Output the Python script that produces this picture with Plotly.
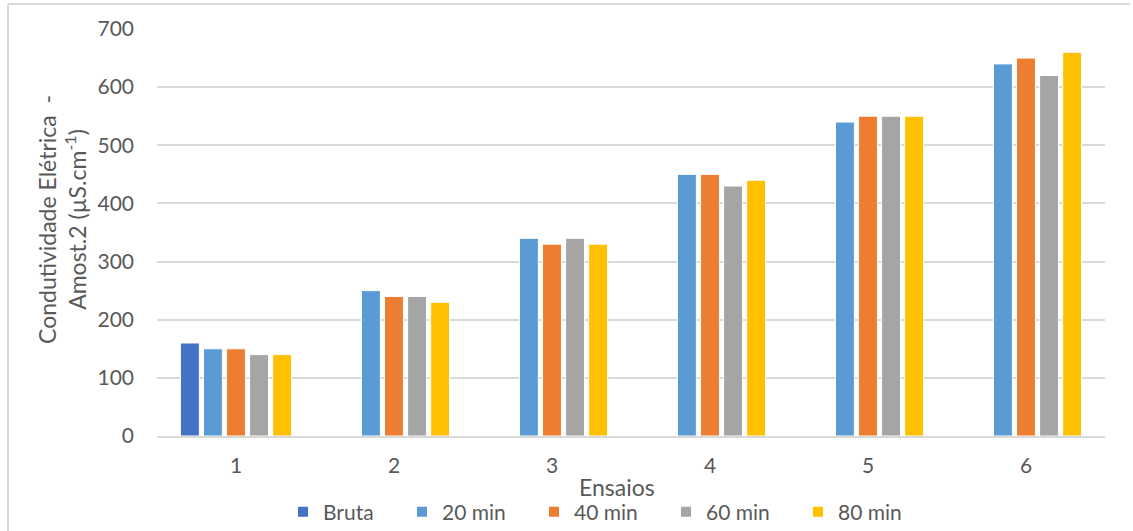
import plotly.graph_objects as go

# Ensaios (x categories)
ensaios = ["1", "2", "3", "4", "5", "6"]

# Condutividade elétrica (µS/cm) por tempo de tratamento
bruta = [160, None, None, None, None, None]
min20 = [150, 250, 340, 450, 540, 640]
min40 = [150, 240, 330, 450, 550, 650]
min60 = [140, 240, 340, 430, 550, 620]
min80 = [140, 230, 330, 440, 550, 660]

series = [
    ("Bruta", bruta, "#4472C4"),
    ("20 min", min20, "#5B9BD5"),
    ("40 min", min40, "#ED7D31"),
    ("60 min", min60, "#A5A5A5"),
    ("80 min", min80, "#FFC000"),
]

FONT = "Lato"
TXT = "#595959"
W, H = 1133, 531
L, R, T, B = 157, 28, 29, 95
PW, PH = W - L - R, H - T - B

# left edge (px) of each legend key
LEGEND_KEYS_X = [299, 418, 550, 682, 814]


def px(x):
    return (x - L) / PW


def py(y):
    return (H - B - y) / PH


fig = go.Figure()
legend_layouts = {}
for i, (name, vals, color) in enumerate(series):
    lname = "legend" if i == 0 else f"legend{i + 1}"
    fig.add_trace(go.Bar(
        x=ensaios, y=vals, name=name, legend=lname,
        marker=dict(color=color, line=dict(color="white", width=1)),
    ))
    legend_layouts[lname] = dict(
        orientation="h", x=px(LEGEND_KEYS_X[i] - 16), xanchor="left",
        y=py(512), yanchor="middle", bgcolor="rgba(0,0,0,0)",
        font=dict(size=21, color=TXT, family=FONT), itemsizing="constant",
    )

fig.update_layout(
    width=W, height=H,
    margin=dict(l=L, r=R, t=T, b=B, autoexpand=False),
    paper_bgcolor="white", plot_bgcolor="white",
    barmode="group", bargap=0.27, bargroupgap=0.18,
    font=dict(family=FONT, color=TXT, size=21),
    xaxis=dict(showgrid=False, showline=True, linecolor="#D9D9D9", linewidth=2,
               ticks="", tickfont=dict(size=21, color=TXT), ticklabelstandoff=10),
    yaxis=dict(range=[0, 700], dtick=100, showgrid=True, gridcolor="#D9D9D9",
               gridwidth=1.5, zeroline=False, ticks="", ticklabelstandoff=22,
               tickfont=dict(size=21, color=TXT)),
    showlegend=True,
    **legend_layouts,
)

fig.add_annotation(text="Ensaios", xref="paper", yref="paper",
                   x=px(617), y=py(487),
                   xanchor="center", yanchor="middle", showarrow=False,
                   font=dict(size=23, color=TXT))
fig.add_annotation(text="Condutividade Elétrica  -<br>Amost.2 (µS.cm<sup>-1</sup>)",
                   xref="paper", yref="paper",
                   x=px(62), y=py(220),
                   xanchor="center", yanchor="middle", textangle=-90,
                   showarrow=False, font=dict(size=23, color=TXT))

# Chart area border
fig.add_shape(type="line", xref="paper", yref="paper",
              x0=px(8), x1=px(8), y0=py(4), y1=py(540),
              line=dict(color="#D9D9D9", width=2))
fig.add_shape(type="line", xref="paper", yref="paper",
              x0=px(8), x1=px(1130), y0=py(4), y1=py(4),
              line=dict(color="#D9D9D9", width=2))

fig.write_html("out.html")
